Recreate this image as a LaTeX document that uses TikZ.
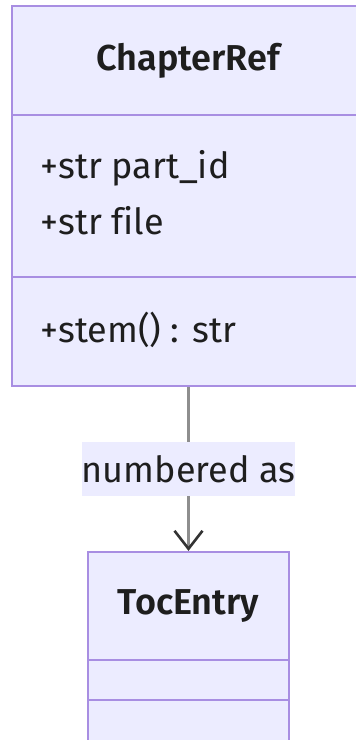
\documentclass[tikz,border=0pt]{standalone}
\usepackage{fontspec}
\setmainfont{Fira Sans}[Ligatures=NoCommon, BoldFont={Fira Sans SemiBold}]
\usetikzlibrary{arrows.meta}
\definecolor{classfill}{HTML}{ECECFF}
\definecolor{classline}{HTML}{A88EE2}
\definecolor{edgeline}{HTML}{8E8E8E}
\definecolor{tipcol}{HTML}{333333}
\definecolor{txt}{HTML}{1E1E1E}
\tikzset{
  classbox/.style={draw=classline, fill=classfill, line width=1.1pt, inner sep=0pt},
  divider/.style={draw=classline, line width=1.1pt},
  title/.style={font=\fontsize{18}{20}\selectfont\bfseries, text=txt, inner sep=0pt},
  member/.style={font=\fontsize{18}{20}\selectfont, text=txt, anchor=west, inner sep=0pt},
  edgelabel/.style={fill=classfill, font=\fontsize{18}{20}\selectfont, text=txt, inner sep=0pt,
    minimum width=103.5pt, minimum height=27pt},
  relation/.style={draw=edgeline, line width=1.4pt,
    -{Straight Barb[length=9pt, width=14pt, line width=1.3pt, color=tipcol]}}
}
\begin{document}
\begin{tikzpicture}[x=0.5pt, y=-0.5pt]
  \useasboundingbox (0,0) rectangle (356,740);
  \clip (0,0) rectangle (356,740);

  % ChapterRef class
  \node[classbox, minimum width=176pt, minimum height=190pt] (chap) at (188,196) {};
  \draw[divider] (12,115) -- (364,115);
  \draw[divider] (12,277) -- (364,277);
  \node[title] (chapname) at (188,61) {ChapterRef};
  \node[member] (attr1) at (40,168) {+str part\_id};
  \node[member] (attr2) at (40,221) {+str file};
  \node[member] (meth1) at (40,330) {+stem() : str};

  % TocEntry class
  \node[classbox, minimum width=100.5pt, minimum height=104pt] (toc) at (188.5,656) {};
  \draw[divider] (88,660) -- (289,660);
  \draw[divider] (88,700) -- (289,700);
  \node[title] (tocname) at (188.5,606) {TocEntry};

  % association
  \draw[relation] (chap.south -| toc.north) -- (toc.north);
  \node[edgelabel] (lbl) at (188.5,469) {numbered as};
\end{tikzpicture}
\end{document}
